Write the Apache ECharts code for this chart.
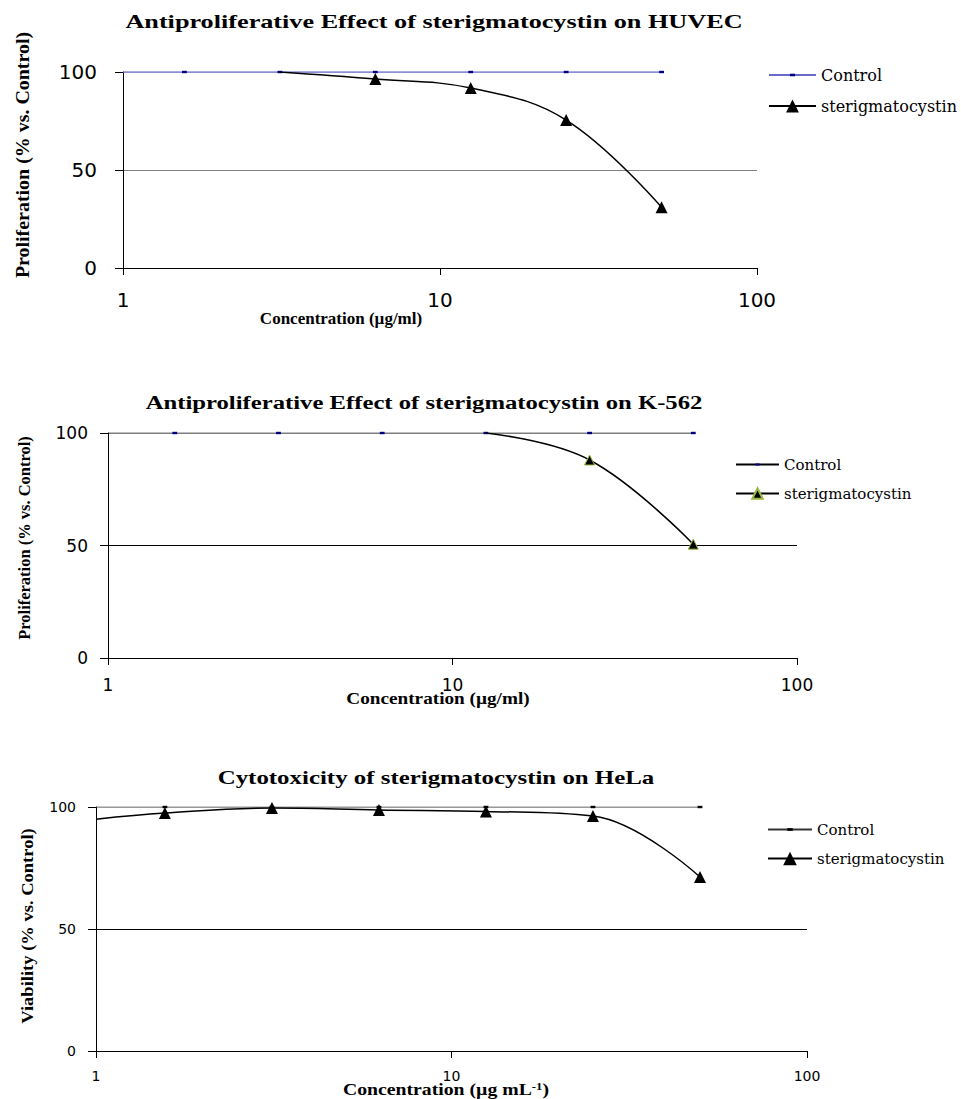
<!DOCTYPE html>
<html>
<head>
<meta charset="utf-8">
<script src="https://cdn.jsdelivr.net/npm/echarts@6/dist/echarts.min.js"></script>
<style>html,body{margin:0;padding:0;background:#fff;}#c{width:961px;height:1099px;}</style>
</head>
<body>
<div id="c"></div>
<script>
// ---- data ----
const conc = [1, 1.5625, 3.125, 6.25, 12.5, 25, 50];
const huvecControl = [100, 100, 100, 100, 100, 100, 100];
const huvecSterigConc = [3.125, 6.25, 12.5, 25, 50];
const huvecSterig = [100, 96.4, 91.8, 75.5, 31];
const k562Control = [100, 100, 100, 100, 100, 100, 100];
const k562SterigConc = [12.5, 25, 50];
const k562Sterig = [100, 88, 50.6];
const helaControl = [100, 100, 100, 100, 100, 100, 100];
const helaSterig = [95, 97.5, 99.6, 98.8, 98.2, 96.3, 71.3];
const xTickLabels = ['1', '10', '100'];
const yTickLabels = ['0', '50', '100'];
const seriesNames = ['Control', 'sterigmatocystin'];
const titles = [
  'Antiproliferative Effect of sterigmatocystin on HUVEC',
  'Antiproliferative Effect of sterigmatocystin on K-562',
  'Cytotoxicity of sterigmatocystin on HeLa'
];
const yNames = ['Proliferation (% vs. Control)', 'Proliferation (% vs. Control)', 'Viability (% vs. Control)'];

const pairs = (xs, ys) => xs.map((x, i) => [x, ys[i]]);
const dashPath = 'path://M0,0M10,10M3,4H7V6H3Z';

const grids = [
  {left: 123, width: 634, top: 72, height: 196},
  {left: 108, width: 689, top: 433, height: 225},
  {left: 96, width: 711, top: 807, height: 244}
];
const tickFont = [20, 17, 14];
const labelMargin = [[22, 26], [18, 20], [18, 20]];
const gridColor = ['#808080', '#000', '#000'];

const xAxes = grids.map((g, i) => ({
  type: 'log', logBase: 10, min: 1, max: 100, gridIndex: i,
  axisLine: {show: true, lineStyle: {color: '#000', width: 1}},
  axisTick: {show: true, length: 7, lineStyle: {color: '#000'}},
  minorTick: {show: false},
  splitLine: {show: false},
  axisLabel: {
    fontFamily: '"DejaVu Sans"', fontSize: tickFont[i], color: '#000', margin: labelMargin[i][0],
    formatter: v => xTickLabels[Math.round(Math.log10(v))]
  }
}));
const yAxes = grids.map((g, i) => ({
  type: 'value', min: 0, max: 100, interval: 50, gridIndex: i,
  axisLine: {show: true, lineStyle: {color: '#000', width: 1}},
  axisTick: {show: true, length: 8, lineStyle: {color: '#000'}},
  splitLine: {show: true, showMinLine: false, showMaxLine: false, lineStyle: {color: gridColor[i], width: 1}},
  axisLabel: {
    fontFamily: '"DejaVu Sans"', fontSize: tickFont[i], color: '#000', margin: labelMargin[i][1],
    formatter: v => yTickLabels[Math.round(v / 50)]
  }
}));

const hideFirst = size => (v, p) => (p.dataIndex === 0 ? 0 : size);

const series = [
  // HUVEC
  {name: 'Control|1', type: 'line', xAxisIndex: 0, yAxisIndex: 0, data: pairs(conc, huvecControl),
   symbol: dashPath, symbolSize: hideFirst(12), lineStyle: {color: '#6a6ac8', width: 1.3},
   itemStyle: {color: '#000080'}, z: 2},
  {name: 'sterigmatocystin|1', type: 'line', xAxisIndex: 0, yAxisIndex: 0, data: pairs(huvecSterigConc, huvecSterig),
   smooth: 0.4, symbol: 'triangle', symbolSize: hideFirst(12), lineStyle: {color: '#000', width: 1.5},
   itemStyle: {color: '#000'}, z: 3},
  // K-562
  {name: 'Control|2', type: 'line', xAxisIndex: 1, yAxisIndex: 1, data: pairs(conc, k562Control),
   symbol: dashPath, symbolSize: hideFirst(12), lineStyle: {color: '#000', width: 1.2},
   itemStyle: {color: '#000080'}, z: 2},
  {name: 'sterigmatocystin|2', type: 'line', xAxisIndex: 1, yAxisIndex: 1, data: pairs(k562SterigConc, k562Sterig),
   smooth: 0.4, symbol: 'triangle', symbolSize: hideFirst(10), lineStyle: {color: '#000', width: 1.5},
   itemStyle: {color: '#000', borderColor: '#99bb44', borderWidth: 1}, z: 3},
  // HeLa
  {name: 'Control|3', type: 'line', xAxisIndex: 2, yAxisIndex: 2, data: pairs(conc, helaControl),
   symbol: dashPath, symbolSize: hideFirst(12), lineStyle: {color: '#333', width: 1.2},
   itemStyle: {color: '#000'}, z: 2},
  {name: 'sterigmatocystin|3', type: 'line', xAxisIndex: 2, yAxisIndex: 2, data: pairs(conc, helaSterig),
   smooth: 0.4, symbol: 'triangle', symbolSize: hideFirst(12), lineStyle: {color: '#000', width: 1.5},
   itemStyle: {color: '#000'}, z: 3}
];

const legendPos = [
  {left: 763, top: 62, itemWidth: 47, itemHeight: 16, itemGap: 15, fs: 16},
  {left: 730, top: 452, itemWidth: 43, itemHeight: 13, itemGap: 14, fs: 15},
  {left: 762, top: 817, itemWidth: 44, itemHeight: 17, itemGap: 14, fs: 15}
];
const legends = legendPos.map((p, i) => ({
  orient: 'vertical',
  left: p.left, top: p.top, itemWidth: p.itemWidth, itemHeight: p.itemHeight, itemGap: p.itemGap,
  data: seriesNames.map(n => n + '|' + (i + 1)),
  formatter: n => '{t|' + n.split('|')[0] + '}',
  textStyle: {
    fontFamily: 'DejaVu Serif', fontSize: p.fs, color: '#000',
    rich: {t: {fontFamily: 'DejaVu Serif', fontSize: p.fs, color: '#000'}}
  },
  selectedMode: false
}));

const serif = '"Liberation Serif", "Times New Roman", serif';
const txt = (text, x, y, size, opts) => Object.assign({
  type: 'text', x: x, y: y,
  style: {text: text, font: 'bold ' + size + 'px ' + serif, fill: '#000', align: 'center', verticalAlign: 'middle'}
}, opts || {});

const graphic = [
  txt(titles[0], 434, 22, 19, {scaleX: 1.38}),
  txt(titles[1], 424, 403, 19, {scaleX: 1.30}),
  txt(titles[2], 436, 778, 19, {scaleX: 1.31}),
  txt(yNames[0], 23, 155, 19, {rotation: Math.PI / 2, scaleX: 1.05}),
  txt(yNames[1], 24, 538, 17, {rotation: Math.PI / 2, scaleX: 0.97}),
  txt(yNames[2], 27, 926, 17, {rotation: Math.PI / 2, scaleX: 1.09}),
  txt('Concentration (µg/ml)', 341, 318, 17),
  txt('Concentration (µg/ml)', 438, 698, 17, {scaleX: 1.13}),
  {
    type: 'text', x: 446, y: 1089, scaleX: 1.16,
    style: {
      text: '{a|Concentration (µg mL}{s|-1}{a|)}',
      align: 'center', verticalAlign: 'middle', fill: '#000',
      rich: {
        a: {font: 'bold 17px ' + serif, fill: '#000'},
        s: {font: 'bold 11px ' + serif, fill: '#000', verticalAlign: 'top'}
      }
    }
  }
];

const chart = echarts.init(document.getElementById('c'), null, {renderer: 'svg'});
chart.setOption({
  animation: false,
  backgroundColor: '#fff',
  textStyle: {fontFamily: 'DejaVu Serif'},
  grid: grids,
  xAxis: xAxes,
  yAxis: yAxes,
  legend: legends,
  series: series,
  graphic: graphic
});
</script>
</body>
</html>
